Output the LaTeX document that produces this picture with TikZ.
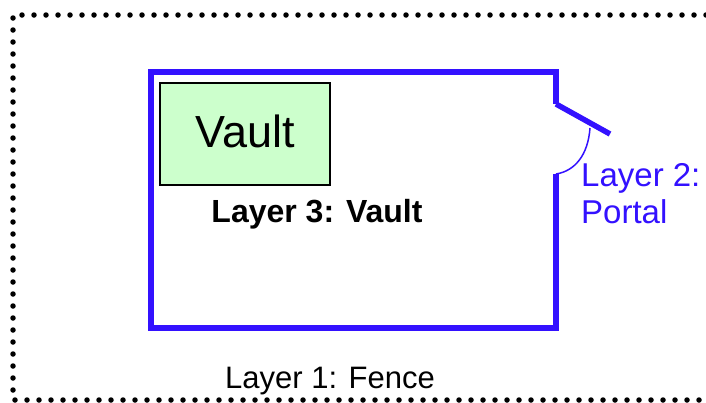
\documentclass[tikz,border=0pt]{standalone}
\usepackage{fontspec}
\setmainfont{Liberation Sans}
\definecolor{wallblue}{RGB}{51,17,255}
\definecolor{vaultgreen}{RGB}{204,255,204}
\tikzset{
  fence/.style={line width=5.5pt, dash pattern=on 0pt off 12pt, line cap=round},
  wall/.style={wallblue, line width=5.5pt},
  swing/.style={wallblue, line width=1.5pt},
  vaultbox/.style={draw=black, line width=2pt, fill=vaultgreen, minimum width=170pt, minimum height=102pt, inner sep=0pt},
}
\begin{document}
\begin{tikzpicture}[x=1pt,y=-1pt]
\useasboundingbox (0,0) rectangle (706,402);
\draw[fence] (730,15) -- (13,15) -- (13,400) -- (730,400);
\coordinate (hinge) at (556,104);
\coordinate (jamb) at (556,174);
\coordinate (doorend) at (610,134);
\coordinate (swingstart) at (590,128);
\draw[wall, line join=miter] (hinge) -- (556,72) -- (151,72) -- (151,328) -- (556,328) -- (jamb);
\draw[wall] (hinge) -- (doorend);
\draw[swing] (swingstart) .. controls (588,155) and (575,171) .. (jamb);
\node[vaultbox, font=\fontsize{45}{48}\selectfont] (vault) at (245,134) {\raisebox{6pt}{Vault}};
\node[font=\bfseries\fontsize{32}{36}\selectfont, anchor=center] (l3) at (317,214) {Layer 3: Vault};
\node[font=\fontsize{33}{37}\selectfont, text=wallblue, anchor=north west, align=left, inner sep=0pt] (l2) at (581,163) {Layer 2:\\Portal};
\node[font=\fontsize{31}{36}\selectfont, anchor=center] (l1) at (330,381) {Layer 1: Fence};
\end{tikzpicture}
\end{document}
